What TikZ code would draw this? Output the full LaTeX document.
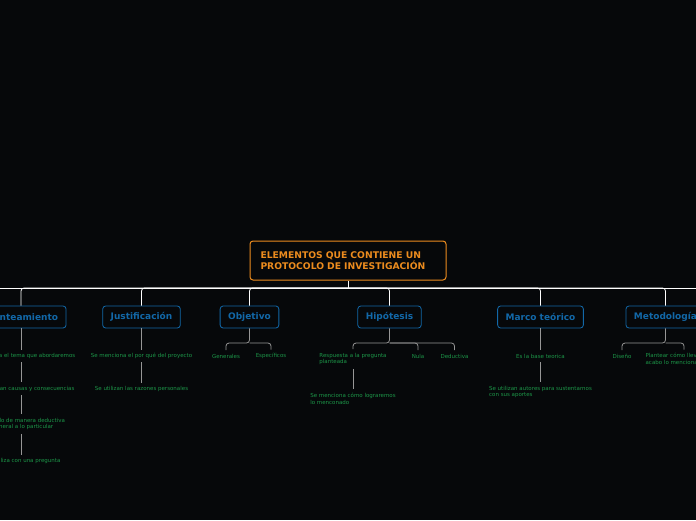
\documentclass[tikz,border=0pt]{standalone}
\usepackage{fontspec}
\setmainfont{DejaVu Sans}
\definecolor{bgdark}{RGB}{6,8,10}
\definecolor{rootorange}{RGB}{236,140,30}
\definecolor{boxblue}{RGB}{18,104,168}
\definecolor{leafgreen}{RGB}{28,150,72}
\definecolor{linegray}{RGB}{150,150,150}
\usetikzlibrary{positioning}

\begin{document}
\begin{tikzpicture}[x=1pt, y=-1pt,
    every node/.style={inner sep=0pt},
    root/.style={rounded corners=3pt, draw=rootorange, line width=1pt, fill=bgdark,
                 text=rootorange, font=\fontsize{9.2}{11}\selectfont\bfseries, align=left,
                 text width=175pt, inner xsep=10.5pt, minimum height=39pt},
    branch/.style={rounded corners=3pt, draw=boxblue, line width=0.8pt, fill=bgdark,
                   text=boxblue, font=\fontsize{9}{10}\selectfont\bfseries,
                   inner xsep=8pt, minimum height=22pt},
    leaf/.style={text=leafgreen, font=\fontsize{5.5}{6.8}\selectfont, align=left, inner ysep=3.5pt},
    bus/.style={draw=white, line width=0.8pt, rounded corners=3pt},
    link/.style={draw=linegray, line width=0.8pt, rounded corners=3pt}
]
\fill[bgdark] (0,0) rectangle (696,520);
\useasboundingbox (0,0) rectangle (696,520);
\clip (0,0) rectangle (696,520);

\node[root] (root) at (348,260.5) {ELEMENTOS QUE CONTIENE UN\\PROTOCOLO DE INVESTIGACIÓN};

\node[branch] (plan) at (21,317)    {Planteamiento};
\node[branch] (just) at (141.5,317) {Justificación};
\node[branch] (obj)  at (249.5,317) {Objetivo};
\node[branch] (hip)  at (389.5,317) {Hipótesis};
\node[branch] (marco) at (540.5,317) {Marco teórico};
\node[branch] (met)  at (665.5,317) {Metodología};

\coordinate (busL) at (0,288);
\coordinate (busR) at (696,288);
\draw[bus] (busL) -- (busR);
\draw[bus] (root.south) -- (root.south |- busL);
\foreach \b in {plan,just,obj,hip,marco,met}
    \draw[bus] (root.south |- busL) -| (\b.north);

\node[leaf] (plan1) at (21,356)   {Se menciona el tema que abordaremos};
\node[leaf] (plan2) at (21,388.5) {Se mencionan causas y consecuencias};
\node[leaf] (plan3) at (21,424)   {Planteado de manera deductiva\\de lo general a lo particular};
\node[leaf] (plan4) at (21,461)   {Se finaliza con una pregunta};
\draw[link] (plan.south) -- (plan1.north);
\draw[link] (plan1.south) -- (plan2.north);
\draw[link] (plan2.south) -- (plan3.north);
\draw[link] (plan3.south) -- (plan4.north);

\node[leaf] (just1) at (141.5,356) {Se menciona el por qué del proyecto};
\node[leaf] (just2) at (141.5,389) {Se utilizan las razones personales};
\draw[link] (just.south) -- (just1.north);
\draw[link] (just1.south) -- (just2.north);

\node[leaf] (obj1) at (226,356) {Generales};
\node[leaf] (obj2) at (271,356) {Específicos};
\coordinate (objfork) at (249.5,343);
\draw[link] (obj.south) -- (objfork) -| (obj1.north);
\draw[link] (objfork) -| (obj2.north);

\node[leaf] (hip1) at (353,359)   {Respuesta a la pregunta\\planteada};
\node[leaf] (hip2) at (418,356)   {Nula};
\node[leaf] (hip3) at (454.5,356) {Deductiva};
\node[leaf] (hip4) at (353,398.5) {Se menciona cómo lograremos\\lo menconado};
\coordinate (hipfork) at (389.5,343);
\draw[link] (hip.south) -- (hipfork) -| (hip1.north);
\draw[link] (hipfork) -| (hip2.north);
\draw[link] (hipfork) -| (hip3.north);
\draw[link] (hip1.south) -- (hip4.north);

\node[leaf] (marco1) at (540.5,356) {Es la base teorica};
\node[leaf] (marco2) at (540.5,392) {Se utilizan autores para sustentarnos\\con sus aportes};
\draw[link] (marco.south) -- (marco1.north);
\draw[link] (marco1.south) -- (marco2.north);

\node[leaf] (met1) at (622,356) {Diseño};
\node[leaf] (met2) at (684,359) {Plantear cómo llevaremos a\\acabo lo mencionado};
\coordinate (metfork) at (665.5,343);
\draw[link] (met.south) -- (metfork) -| (met1.north);
\draw[link] (metfork) -| (met2.north);
\end{tikzpicture}
\end{document}
